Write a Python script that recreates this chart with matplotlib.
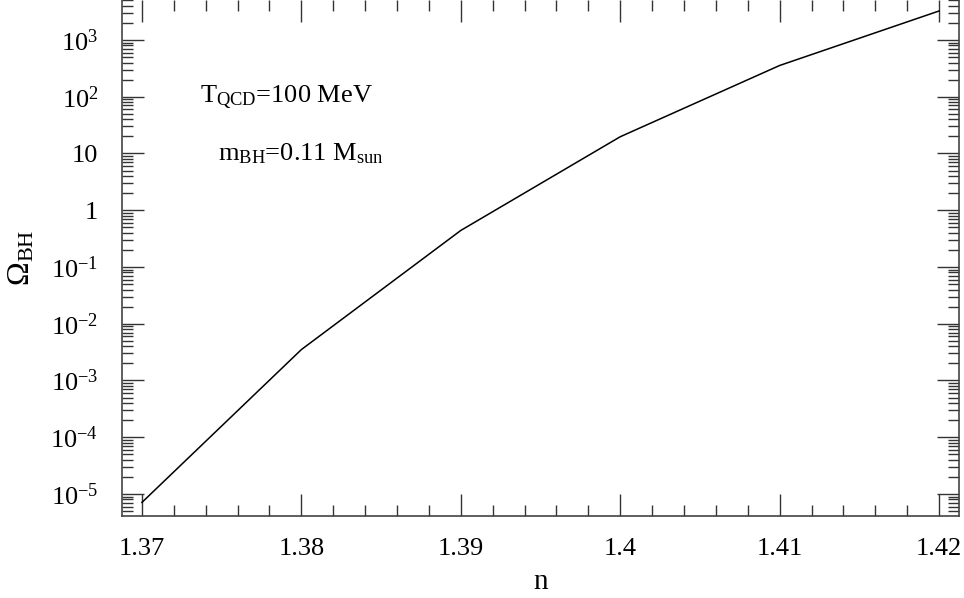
import matplotlib
matplotlib.use("Agg")
import matplotlib.pyplot as plt
import numpy as np

plt.rcParams['font.family'] = ['Liberation Serif', 'DejaVu Serif']
plt.rcParams['mathtext.fontset'] = 'custom'
plt.rcParams['mathtext.rm'] = 'Liberation Serif'
plt.rcParams['mathtext.it'] = 'Liberation Serif:italic'

# data
n_vals = [1.37, 1.38, 1.39, 1.40, 1.41, 1.42]
omega_bh = [7.1e-6, 3.5e-3, 0.44, 19.7, 355.0, 3240.0]

x_ticks = [1.37, 1.38, 1.39, 1.40, 1.41, 1.42]
x_labels = ['1.37', '1.38', '1.39', '1.4', '1.41', '1.42']
y_ticks = [1e-5, 1e-4, 1e-3, 1e-2, 1e-1, 1, 10, 1e2, 1e3]
y_labels = [r'10$^{-5}$', r'10$^{-4}$', r'10$^{-3}$', r'10$^{-2}$', r'10$^{-1}$',
            '1', '10', r'10$^{2}$', r'10$^{3}$']

fig = plt.figure(figsize=(9.64, 5.98), dpi=100)
ax = fig.add_axes([122 / 964, 82 / 598, (959 - 122) / 964, 516 / 598])

ax.plot(n_vals, omega_bh, color='black', lw=1.1)

ax.set_yscale('log')
ax.set_xlim(1.36875, 1.42125)
ax.set_ylim(10 ** -5.388, 10 ** 3.704)

ax.set_xticks(x_ticks)
ax.set_xticklabels(x_labels)
ax.set_xticks(np.arange(1.37, 1.4201, 0.002), minor=True)
ax.set_yticks(y_ticks)
ax.set_yticklabels(y_labels)
ax.yaxis.set_minor_locator(matplotlib.ticker.LogLocator(base=10, subs=np.arange(2, 10), numticks=30))
ax.yaxis.set_minor_formatter(matplotlib.ticker.NullFormatter())

ax.tick_params(which='both', direction='in', top=True, right=True, labelsize=19, width=1.0, color='#333333')
ax.tick_params(which='major', length=16)
ax.tick_params(axis='x', which='major', pad=16)
ax.tick_params(axis='y', which='major', pad=17)
ax.tick_params(which='minor', length=8)
ax.spines['top'].set_visible(False)
for s in ['left', 'right', 'bottom']:
    ax.spines[s].set_color('#444444')
    ax.spines[s].set_linewidth(1.2)

ax.set_xlabel('n', fontsize=21, labelpad=6)
ax.set_ylabel(r'$\Omega_{\rm BH}$', fontsize=23, labelpad=10)

ax.text(1.37364, 10 ** 2.0, r'T$_{\rm QCD}$=100 MeV', fontsize=19, va='center')
ax.text(1.37477, 10 ** 1.0, r'm$_{\rm BH}$=0.11 M$_{\rm sun}$', fontsize=19, va='center')

fig.savefig('out.png', dpi=100)
